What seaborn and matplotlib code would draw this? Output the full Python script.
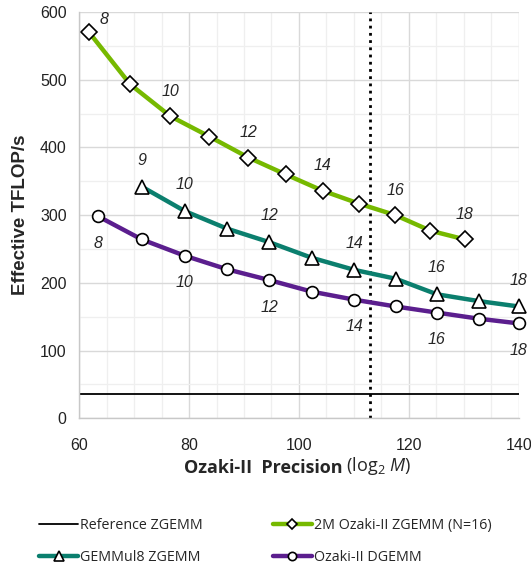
import numpy as np
import seaborn as sns
from matplotlib import pyplot as plt
from matplotlib.ticker import MultipleLocator

# data
moduli_2m = [8, 9, 10, 11, 12, 13, 14, 15, 16, 17, 18]
prec_2m = [61.8, 69.3, 76.6, 83.7, 90.8, 97.6, 104.3, 110.9, 117.5, 123.9, 130.2]
tflops_2m = [570, 493, 446, 416, 385, 360, 336, 317, 300, 277, 264]

moduli_gemmul8 = [9, 10, 11, 12, 13, 14, 15, 16, 17, 18]
prec_gemmul8 = [71.4, 79.2, 86.9, 94.6, 102.3, 110.1, 117.6, 125.1, 132.7, 140.0]
tflops_gemmul8 = [342, 306, 280, 260, 237, 219, 206, 183, 173, 165]

moduli_dgemm = [8, 9, 10, 11, 12, 13, 14, 15, 16, 17, 18]
prec_dgemm = [63.5, 71.4, 79.2, 86.9, 94.6, 102.3, 110.1, 117.6, 125.1, 132.7, 140.0]
tflops_dgemm = [298, 264, 240, 220, 204, 187, 175, 165, 156, 147, 140]

ref_zgemm = 36.5
double_double_prec = 113

labels_2m = [8, 10, 12, 14, 16, 18]
labels_gemmul8 = [9, 10, 12, 14, 16, 18]
labels_dgemm = [8, 10, 12, 14, 16, 18]

green = '#76b900'
teal = '#0b7f6e'
purple = '#5b1e8e'

sns.set_theme(style="white")
plt.rcParams['font.family'] = ['Liberation Sans', 'DejaVu Sans']
plt.rcParams['mathtext.fontset'] = 'custom'
plt.rcParams['mathtext.rm'] = 'Open Sans'
plt.rcParams['mathtext.it'] = 'Open Sans:italic'

fig, ax = plt.subplots(figsize=(5.31, 5.69), dpi=100)
fig.subplots_adjust(left=0.149, right=0.977, top=0.979, bottom=0.265)

#reference line and the dotted marker
sns.lineplot(x=[60, 140], y=[ref_zgemm, ref_zgemm], color='black', linewidth=1.3, ax=ax)
ax.axvline(double_double_prec, color='black', linestyle=(0, (1, 1.6)), linewidth=2.0)

sns.lineplot(x=prec_2m, y=tflops_2m, color=green, linewidth=3.2, marker='D', markersize=8,
             markerfacecolor='white', markeredgecolor='black', markeredgewidth=1.2,
             sort=False, ax=ax, clip_on=False)
sns.lineplot(x=prec_gemmul8, y=tflops_gemmul8, color=teal, linewidth=3.2, marker='^', markersize=10,
             markerfacecolor='white', markeredgecolor='black', markeredgewidth=1.2,
             sort=False, ax=ax, clip_on=False)
sns.lineplot(x=prec_dgemm, y=tflops_dgemm, color=purple, linewidth=3.2, marker='o', markersize=8.5,
             markerfacecolor='white', markeredgecolor='black', markeredgewidth=1.2,
             sort=False, ax=ax, clip_on=False)
ref_line, green_line, teal_line, purple_line = ax.lines[0], ax.lines[2], ax.lines[3], ax.lines[4]

#number of moduli next to the points
lbl_size = 11.5
for n, x, y in zip(moduli_2m, prec_2m, tflops_2m):
    if n in labels_2m:
        off = (11, 9) if n == 8 else (0, 18)
        ax.annotate(str(n), (x, y), xytext=off, textcoords='offset points', ha='center', va='center',
                    fontsize=lbl_size, style='italic')
for n, x, y in zip(moduli_gemmul8, prec_gemmul8, tflops_gemmul8):
    if n in labels_gemmul8:
        ax.annotate(str(n), (x, y), xytext=(0, 19), textcoords='offset points', ha='center', va='center',
                    fontsize=lbl_size, style='italic')
for n, x, y in zip(moduli_dgemm, prec_dgemm, tflops_dgemm):
    if n in labels_dgemm:
        ax.annotate(str(n), (x, y), xytext=(0, -19.5), textcoords='offset points', ha='center', va='center',
                    fontsize=lbl_size, style='italic')

ax.set_xlim(60, 140)
ax.set_ylim(0, 600)
ax.xaxis.set_major_locator(MultipleLocator(20))
ax.xaxis.set_minor_locator(MultipleLocator(5))
ax.yaxis.set_major_locator(MultipleLocator(100))
ax.yaxis.set_minor_locator(MultipleLocator(50))
ax.grid(which='major', color='#d9d9d9', linewidth=1.0)
ax.grid(which='minor', color='#efefef', linewidth=0.9)
ax.set_axisbelow(True)
ax.tick_params(which='both', length=0)
ax.tick_params(axis='x', pad=14, labelsize=11.5, colors='#222222')
ax.tick_params(axis='y', pad=9, labelsize=11.5, colors='#222222')
for side in ['top', 'right']:
    ax.spines[side].set_visible(False)
for side in ['left', 'bottom']:
    ax.spines[side].set_color('#c8c8c8')
    ax.spines[side].set_linewidth(1.0)

ax.set_ylabel('Effective TFLOP/s', fontsize=13.5, fontweight='bold', labelpad=8)

#x label: bold part followed by a regular part
t1 = fig.text(0.5, 0.168, 'Ozaki-II  Precision', fontsize=13, fontweight='bold', family='Open Sans',
              ha='right', va='baseline')
t1.set_x(0.5 + 0.43 / 2 - 0.07)
fig.canvas.draw()
t2 = ax.annotate(' (log$_2$ $M$)', xy=(1, 0), xycoords=t1, va='bottom', ha='left', fontsize=13,
                 family='Open Sans')

handles = [ref_line, teal_line, green_line, purple_line]
labels = ['Reference ZGEMM', 'GEMMul8 ZGEMM', '2M Ozaki-II ZGEMM (N=16)', 'Ozaki-II DGEMM']
fig.legend(handles, labels, ncol=2, loc='upper left', bbox_to_anchor=(0.05, 0.112), frameon=False,
           prop={'family': 'Open Sans', 'size': 10.3}, handlelength=2.7, handletextpad=0.15,
           columnspacing=4.9, labelspacing=1.15, markerscale=0.7)

plt.savefig('out.png', dpi=100)
